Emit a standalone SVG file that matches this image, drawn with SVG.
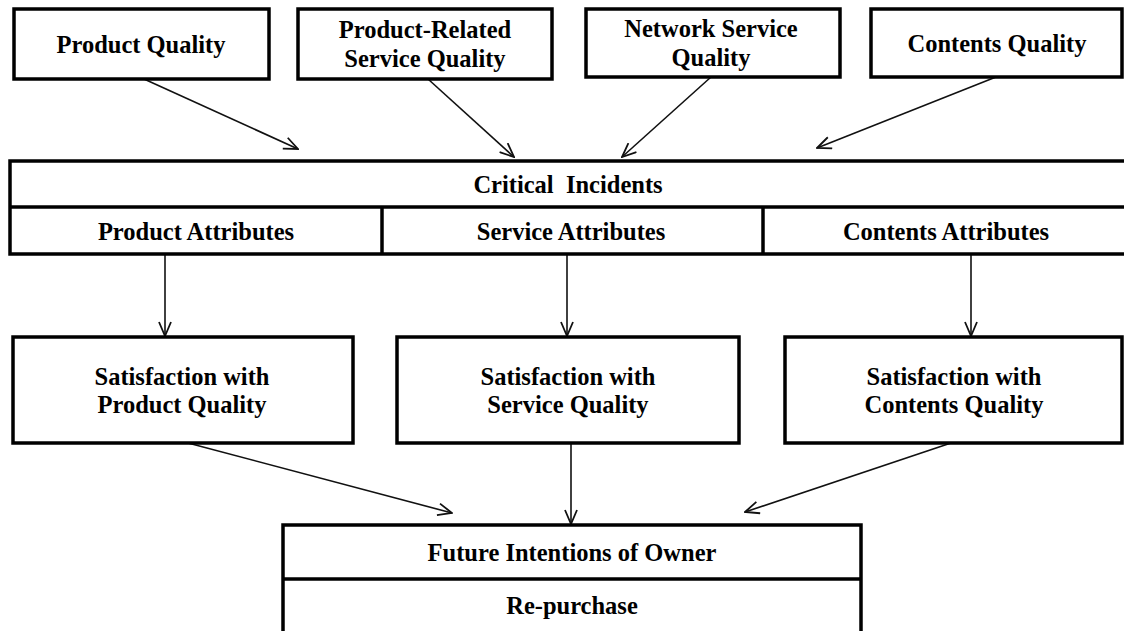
<svg xmlns="http://www.w3.org/2000/svg" width="1124" height="631" viewBox="0 0 1124 631">
<style>
.box{fill:#fff;stroke:#000;stroke-width:3.5}
.div{stroke:#000;stroke-width:3.5;fill:none}
.t{font-family:"Liberation Serif","Times New Roman",serif;font-weight:bold;font-size:24.5px;fill:#000;text-anchor:middle}
.c{stroke:#111;stroke-width:1.6;fill:none;marker-end:url(#ah)}
</style>
<defs>
<marker id="ah" markerUnits="userSpaceOnUse" markerWidth="16" markerHeight="14" viewBox="0 0 16 14" refX="15" refY="7" orient="auto">
<path d="M1,1 L15,7 L1,13" fill="none" stroke="#111" stroke-width="1.8"/>
</marker>
</defs>
<rect width="1124" height="631" fill="#fff"/>
<g id="connectors">
<line class="c" x1="144" y1="79" x2="298" y2="149"/>
<line class="c" x1="428" y1="79" x2="514" y2="157"/>
<line class="c" x1="711" y1="77" x2="622" y2="157"/>
<line class="c" x1="996" y1="77" x2="817" y2="148"/>
<line class="c" x1="165" y1="254" x2="165" y2="336"/>
<line class="c" x1="567" y1="254" x2="567" y2="336"/>
<line class="c" x1="971" y1="254" x2="971" y2="336"/>
<line class="c" x1="188" y1="443" x2="452" y2="513"/>
<line class="c" x1="571" y1="443" x2="571" y2="524"/>
<line class="c" x1="951" y1="443" x2="745" y2="512"/>
</g>
<g id="product-quality">
<rect class="box" x="14" y="9" width="255" height="70"/>
<text class="t" x="141" y="53">Product Quality</text>
</g>
<g id="product-related-service-quality">
<rect class="box" x="298" y="9" width="254" height="70"/>
<text class="t" x="425" y="38">Product-Related</text>
<text class="t" x="425" y="67">Service Quality</text>
</g>
<g id="network-service-quality">
<rect class="box" x="586" y="9" width="254" height="68"/>
<text class="t" x="711" y="37">Network Service</text>
<text class="t" x="711" y="66">Quality</text>
</g>
<g id="contents-quality">
<rect class="box" x="871" y="9" width="251" height="68"/>
<text class="t" x="997" y="52">Contents Quality</text>
</g>
<g id="critical-incidents">
<rect class="box" x="10" y="161" width="1124" height="93"/>
<line class="div" x1="10" y1="207" x2="1124" y2="207"/>
<line class="div" x1="382" y1="207" x2="382" y2="254"/>
<line class="div" x1="763" y1="207" x2="763" y2="254"/>
<text class="t" x="568" y="193" xml:space="preserve">Critical  Incidents</text>
<text class="t" x="196" y="240">Product Attributes</text>
<text class="t" x="571" y="240">Service Attributes</text>
<text class="t" x="946" y="240">Contents Attributes</text>
</g>
<g id="satisfaction-product">
<rect class="box" x="13" y="337" width="340" height="106"/>
<text class="t" x="182" y="385">Satisfaction with</text>
<text class="t" x="182" y="413">Product Quality</text>
</g>
<g id="satisfaction-service">
<rect class="box" x="397" y="337" width="342" height="106"/>
<text class="t" x="568" y="385">Satisfaction with</text>
<text class="t" x="568" y="413">Service Quality</text>
</g>
<g id="satisfaction-contents">
<rect class="box" x="785" y="337" width="337" height="106"/>
<text class="t" x="954" y="385">Satisfaction with</text>
<text class="t" x="954" y="413">Contents Quality</text>
</g>
<g id="future-intentions">
<rect class="box" x="283" y="525" width="578" height="120"/>
<line class="div" x1="283" y1="579" x2="861" y2="579"/>
<text class="t" x="572" y="561">Future Intentions of Owner</text>
<text class="t" x="572" y="614">Re-purchase</text>
</g>
</svg>
